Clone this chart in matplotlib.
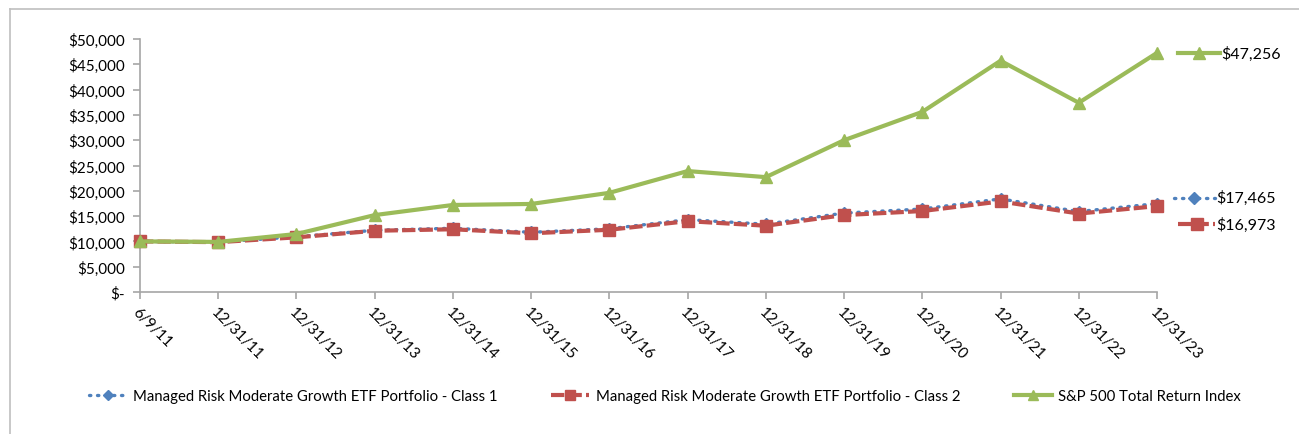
import matplotlib.pyplot as plt
import matplotlib.transforms as mtransforms
from matplotlib.lines import Line2D
from matplotlib.ticker import FuncFormatter

plt.rcParams['font.family'] = ['Lato', 'DejaVu Sans']

dates = ['6/9/11', '12/31/11', '12/31/12', '12/31/13', '12/31/14', '12/31/15', '12/31/16',
         '12/31/17', '12/31/18', '12/31/19', '12/31/20', '12/31/21', '12/31/22', '12/31/23']
class1 = [10000, 9870, 10900, 12200, 12600, 11800, 12500, 14300, 13400, 15600, 16400, 18400, 15900, 17465]
class2 = [10000, 9850, 10800, 12100, 12400, 11600, 12300, 14000, 13100, 15200, 16000, 17900, 15500, 16973]
sp500 = [10000, 9900, 11460, 15200, 17200, 17400, 19600, 23900, 22700, 30000, 35600, 45700, 37400, 47256]

names = ['Managed Risk Moderate Growth ETF Portfolio - Class 1',
         'Managed Risk Moderate Growth ETF Portfolio - Class 2',
         'S&P 500 Total Return Index']
blue, red, green = '#4F81BD', '#C0504D', '#9BBB59'

fig = plt.figure(figsize=(12.99, 4.35), dpi=100)
ax = fig.add_axes([140/1299, 1-293/435, 1017/1299, 253/435])

x = list(range(len(dates)))
styles = [
    dict(color=blue, ls=(0, (0.4, 2.0)), lw=2.4, marker='D', ms=6, dash_capstyle='round'),
    dict(color=red, ls=(0, (3.2, 1.0)), lw=3, marker='s', ms=8.5),
    dict(color=green, ls='-', lw=3, marker='^', ms=9),
]
for vals, name, st, z in zip([class1, class2, sp500], names, styles, [3, 4, 5]):
    ax.plot(x, vals, label=name, clip_on=False, zorder=z, **st)

ax.set_xlim(0, len(dates) - 1)
ax.set_ylim(0, 50000)
ax.set_yticks(range(0, 50001, 5000))
ax.yaxis.set_major_formatter(FuncFormatter(lambda v, p: '$-' if v == 0 else '${:,.0f}'.format(v)))
ax.set_xticks(x)
ax.set_xticklabels(dates, rotation=-45, ha='left', va='top', rotation_mode='anchor')
for s in ['top', 'right']:
    ax.spines[s].set_visible(False)
for s in ['left', 'bottom']:
    ax.spines[s].set_color('#A6A6A6')
    ax.spines[s].set_linewidth(1.2)
ax.tick_params(axis='both', colors='#A6A6A6', length=5, width=1.2, labelcolor='black', labelsize=11)
ax.tick_params(axis='y', pad=6)
ax.tick_params(axis='x', pad=4)

# end-value labels with small series keys
ends = [(class1, styles[0], 1.0167, 1.057, 6), (class2, styles[1], 1.0207, 1.057, -18),
        (sp500, styles[2], 1.0207, 1.062, 0)]
blend = mtransforms.blended_transform_factory(ax.transAxes, ax.transData)
for vals, st, x0, x1, dy in ends:
    tr = blend + mtransforms.ScaledTranslation(0, dy / 100, fig.dpi_scale_trans)
    seg = Line2D([x0, x1], [vals[-1], vals[-1]], transform=tr, color=st['color'], ls=st['ls'],
                 lw=st['lw'], clip_on=False, dash_capstyle=st.get('dash_capstyle', 'butt'))
    mk = Line2D([(x0 + x1) / 2], [vals[-1]], transform=tr, color=st['color'], marker=st['marker'],
                ms=st['ms'], clip_on=False)
    ax.add_line(seg)
    ax.add_line(mk)
    ax.text(x1 + 0.001, vals[-1], '${:,}'.format(vals[-1]), transform=tr, fontsize=11.5,
            va='center', ha='left')

fig.legend(loc='center', bbox_to_anchor=(665/1299, 1-397/435), ncol=3, frameon=False, fontsize=10.7,
           handlelength=2.55, columnspacing=3.6, handletextpad=0.45, markerscale=0.85)

# outer frame
fig.add_artist(Line2D([10/1299, 1], [1-10/435, 1-10/435], transform=fig.transFigure, color='#BFBFBF', lw=1.2))
fig.add_artist(Line2D([10/1299, 10/1299], [0, 1-10/435], transform=fig.transFigure, color='#BFBFBF', lw=1.2))

fig.savefig('out.png', dpi=100)
